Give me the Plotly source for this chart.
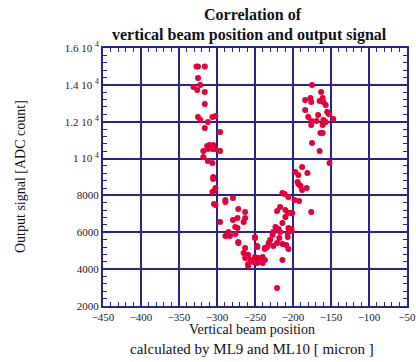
import plotly.graph_objects as go

# Vertical beam position [micron]
pos = [
    -327, -325, -316, -325, -331, -322, -326, -316, -316, -325,
    -322, -312, -306, -302, -316, -296, -313, -310, -305, -306,
    -312, -302, -296, -318, -318, -312, -306, -305, -305, -302,
    -304, -306, -289, -289, -279, -304, -302,
    -272, -263, -263, -273, -279, -265, -296, -276, -273, -285,
    -289, -283, -276, -272, -272, -250, -263, -247, -265, -259,
    -263, -256, -250, -243, -252, -259, -240, -247, -237, -246,
    -237, -259, -214, -221,
    -197, -181, -193, -194, -193, -190, -182, -188, -214, -211,
    -206, -198, -192, -217, -221, -210, -207, -203, -201, -210,
    -176, -214, -223, -219, -226, -217, -206, -202, -207, -202,
    -250, -227, -218, -207, -230, -221, -214, -232, -234, -237,
    -226, -209, -206, -247, -240, -239,
    -175, -163, -184, -177, -176, -165, -161, -160, -157, -184,
    -155, -153, -180, -167, -147, -176, -169, -160, -157, -176,
    -161, -164, -161, -175, -165, -152, -188,
]

# Output signal [ADC count]
signal = [
    15000, 15000, 15000, 14370, 13880, 13990, 13720, 13610, 12960, 12250,
    12090, 11980, 12250, 12310, 11660, 11440, 10680, 10740, 10740, 10520,
    10520, 10520, 10410, 10410, 10090, 9870, 9760, 9000, 8890, 8400,
    8240, 8190, 7640, 7750, 7860, 7540, 7480,
    7260, 7100, 6780, 6780, 6670, 6560, 6560, 6290, 6230, 6020,
    5800, 5800, 5910, 5470, 5420, 5690, 5150, 5200, 4880, 4770,
    4600, 4500, 4660, 4600, 4390, 4170, 4330, 4330, 5150, 4600,
    4500, 4280, 4500, 2980,
    9270, 9220, 9110, 8730, 8620, 8510, 8400, 8290, 8130, 8080,
    7910, 7750, 7700, 7370, 7160, 7210, 7050, 7050, 7050, 6830,
    7100, 6500, 6290, 6180, 6020, 6020, 6230, 6180, 5960, 6070,
    5740, 5850, 5690, 5740, 5580, 5420, 5360, 5420, 5200, 5090,
    5260, 5310, 5090, 5260, 4660, 4500,
    13990, 13610, 13180, 13290, 13070, 13120, 13290, 13070, 12910, 12640,
    12530, 12420, 12250, 12360, 12150, 12040, 12040, 12090, 11980, 11820,
    11820, 11390, 11390, 10840, 10410, 9760, 9540,
]

x_ticks = [-450, -400, -350, -300, -250, -200, -150, -100, -50]
y_ticks = [2000, 4000, 6000, 8000, 10000, 12000, 14000, 16000]
y_ticktext = ["2000", "4000", "6000", "8000", "1 10 <sup>4</sup>",
              "1.2 10 <sup>4</sup>", "1.4 10 <sup>4</sup>", "1.6 10 <sup>4</sup>"]

NAVY = "#2a2388"
SERIF = "Liberation Serif, Times New Roman, serif"

fig = go.Figure()
fig.add_trace(go.Scatter(
    x=pos, y=signal, mode="markers",
    marker=dict(color="#e4003a", size=6, line=dict(width=0)),
    showlegend=False,
))

axis_common = dict(
    showline=True, linecolor=NAVY, linewidth=2, mirror="allticks",
    showgrid=True, gridcolor=NAVY, gridwidth=2,
    ticks="inside", ticklen=0, tickcolor=NAVY,
    zeroline=False, automargin=False, ticklabeloverflow="allow",
    tickfont=dict(family=SERIF, size=11, color="#222"),
)

fig.update_xaxes(
    range=[-450, -50], tickvals=x_ticks,
    minor=dict(dtick=10, ticks="inside", ticklen=4, tickcolor=NAVY, tickwidth=1, showgrid=False),
    **axis_common,
)
fig.update_yaxes(
    range=[2000, 16000], tickvals=y_ticks, ticktext=y_ticktext,
    minor=dict(dtick=400, ticks="inside", ticklen=4, tickcolor=NAVY, tickwidth=1, showgrid=False),
    **axis_common,
)

title_font = dict(family=SERIF, size=16, color="#111")

fig.update_layout(
    width=416, height=362,
    margin=dict(l=103, r=9, t=48, b=56),
    paper_bgcolor="white", plot_bgcolor="white",
    annotations=[
        dict(text="<b>Correlation of</b>", xref="paper", yref="paper",
             x=0.495, y=1.128, xanchor="center", yanchor="middle", showarrow=False,
             font=title_font),
        dict(text="<b>vertical beam position and output signal</b>", xref="paper", yref="paper",
             x=0.483, y=1.050, xanchor="center", yanchor="middle", showarrow=False,
             font=title_font),
        dict(text="Vertical beam position", xref="paper", yref="paper",
             x=0.49, y=-0.092, xanchor="center", yanchor="middle", showarrow=False,
             font=dict(family=SERIF, size=14, color="#111")),
        dict(text="calculated by ML9 and ML10 [ micron ]", xref="paper", yref="paper",
             x=0.49, y=-0.168, xanchor="center", yanchor="middle", showarrow=False,
             font=dict(family=SERIF, size=15, color="#111")),
        dict(text="Output signal [ADC count]", xref="paper", yref="paper",
             x=-0.273, y=0.5, xanchor="center", yanchor="middle", showarrow=False,
             textangle=-90, font=dict(family=SERIF, size=14, color="#111")),
    ],
)

fig.write_html("out.html", config={"displayModeBar": False},
               post_script="document.body.style.margin='0';")
